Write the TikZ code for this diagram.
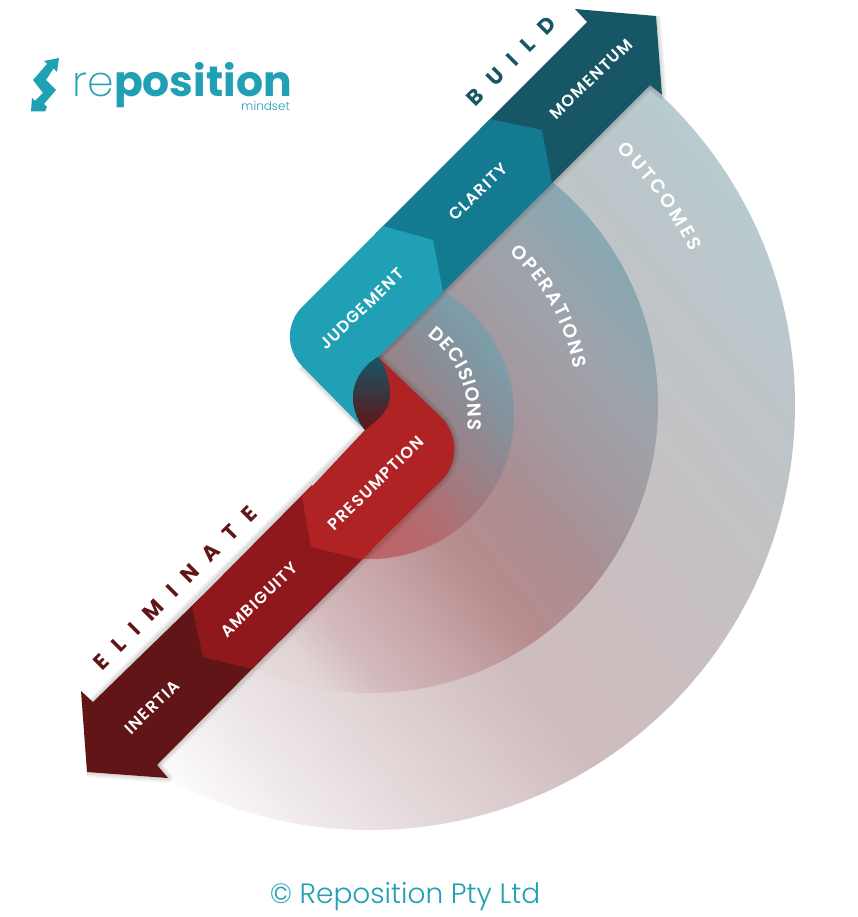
\documentclass[tikz,border=0pt]{standalone}
\usepackage{fontspec}
\setmainfont{Poppins}
\newfontfamily\lightf{Poppins}[UprightFont={* Light}]
\newfontfamily\xlightf{Poppins}[UprightFont={* ExtraLight}]
\newfontfamily\boldf{Poppins}[UprightFont={* Bold}]
\newfontfamily\labelf{Poppins}[UprightFont={* SemiBold},LetterSpace=8]
\newfontfamily\curvef{Poppins}[UprightFont={* SemiBold}]
\newfontfamily\wordf{Poppins}[UprightFont={* Bold},LetterSpace=64]
\usetikzlibrary{decorations.text,calc}
\definecolor{tealA}{HTML}{20A0B5}
\definecolor{tealB}{HTML}{137A92}
\definecolor{tealC}{HTML}{175665}
\definecolor{redA}{HTML}{B02324}
\definecolor{redB}{HTML}{8E181B}
\definecolor{redC}{HTML}{621517}
\definecolor{logoteal}{HTML}{20A0B5}
\definecolor{oa}{HTML}{FDFCFC}
\definecolor{ob}{HTML}{F1EBEC}
\definecolor{oc}{HTML}{E8DFE0}
\definecolor{od}{HTML}{DCCDCE}
\definecolor{oe}{HTML}{CFBCBE}
\definecolor{of}{HTML}{C9BFC0}
\definecolor{og}{HTML}{BCC5C9}
\definecolor{oh}{HTML}{B8CBCF}
\definecolor{ma}{HTML}{E9E0E1}
\definecolor{mb}{HTML}{E2D5D6}
\definecolor{mc}{HTML}{D3BABD}
\definecolor{md}{HTML}{C8A6A9}
\definecolor{me}{HTML}{B78C8D}
\definecolor{mf}{HTML}{AB8E92}
\definecolor{mg}{HTML}{A4969C}
\definecolor{mh}{HTML}{9FA2AA}
\definecolor{mi}{HTML}{87A8B2}
\definecolor{ia}{HTML}{BB6668}
\definecolor{ib}{HTML}{B56B6E}
\definecolor{ic}{HTML}{8E8A92}
\definecolor{id}{HTML}{7D9AA6}
\definecolor{ie}{HTML}{7D9EA8}
\definecolor{la}{HTML}{5C181A}
\definecolor{lb}{HTML}{1C5060}
\pgfdeclareverticalshading{ringout}{1400bp}{
 color(0bp)=(white); color(250bp)=(white); color(293bp)=(oa);
 color(368bp)=(ob); color(433bp)=(oc); color(531bp)=(od); color(629bp)=(oe);
 color(784bp)=(of); color(1018bp)=(og); color(1109bp)=(oh); color(1400bp)=(oh)}
\pgfdeclareverticalshading{ringmid}{1400bp}{
 color(0bp)=(ma); color(400bp)=(ma); color(472bp)=(mb); color(518bp)=(mc);
 color(585bp)=(md); color(665bp)=(me); color(748bp)=(mf); color(795bp)=(mg);
 color(884bp)=(mh); color(977bp)=(mi); color(1400bp)=(mi)}
\pgfdeclareverticalshading{ringin}{1400bp}{
 color(0bp)=(ia); color(618bp)=(ia); color(654bp)=(ib); color(758bp)=(ic);
 color(807bp)=(id); color(819bp)=(ie); color(1400bp)=(ie)}
\pgfdeclareverticalshading{lensshade}{100bp}{
 color(0bp)=(la); color(20bp)=(la); color(80bp)=(lb); color(100bp)=(lb)}
\tikzset{
 lbl/.style={text=white,font=\labelf\fontsize{16.3}{18}\selectfont,rotate=44,inner sep=0pt},
 word/.style={font=\wordf\fontsize{21.5}{23}\selectfont,rotate=45,inner sep=0pt},
 bandshadow/.style={draw=black,opacity=.03,line join=round},
 curved/.style={decorate,decoration={text along path,text align={fit to path},text color=white,
   text={|\curvef\fontsize{19}{21}\selectfont|#1}}},
 ring/.style={inner sep=0pt,rotate=-50}
}
\newcommand{\fanclip}{\clip (735,0) -- (650,-85) -- (378,-357) -- (441,-481) -- (157,-765) -- (140,-782) -- (300,-1000) -- (1000,-1000) -- (1000,0) -- cycle;}
\begin{document}
\begin{tikzpicture}[x=1pt,y=1pt]
\useasboundingbox (0,0) rectangle (857,-917);
\fill[white] (0,0) rectangle (857,-917);
\coordinate (C) at (370,-405);
\coordinate (Cin) at (370,-415);
% ---------- fan
\begin{scope}
 \fanclip
 \clip (C) circle[radius=425pt];
 \node[ring] (fanA) at (405,-430) {\pgfuseshading{ringout}};
\end{scope}
\begin{scope}
 \fanclip
 \clip (C) circle[radius=288pt];
 \node[ring] (fanB) at (405,-430) {\pgfuseshading{ringmid}};
\end{scope}
\begin{scope}
 \fanclip
 \clip (Cin) circle[radius=144pt];
 \node[ring] (fanC) at (405,-430) {\pgfuseshading{ringin}};
\end{scope}
% ---------- curved labels
\path[curved={DECISIONS}] ($(Cin)+(54:98pt)$) arc[start angle=54,end angle=-9,radius=98pt];
\path[curved={OPERATIONS}] ($(C)+(47.5:207pt)$) arc[start angle=47.5,end angle=10,radius=207pt];
\path[curved={OUTCOMES}] ($(C)+(46:355pt)$) arc[start angle=46,end angle=25.5,radius=355pt];
% ---------- shadows
\foreach \w in {2,4,6,8,10}{
 \draw[bandshadow,line width=\w pt] (650,-85) -- (662,-95) -- (656,-16);
 \draw[bandshadow,line width=\w pt] (157,-765) -- (168,-778) -- (87,-772);
 \draw[bandshadow,line width=\w pt] (157,-765) -- (441,-481);
 \draw[bandshadow,line width=\w pt] (378,-357) -- (441,-417);
 \draw[bandshadow,line width=\w pt] (441.2,-417.2) arc[start angle=45,end angle=-45,radius=45pt];
 \draw[bandshadow,line width=\w pt] (378,-357) -- (650,-85);
 \draw[bandshadow,line width=\w pt] (302,-366) -- (365,-430) -- (93,-702);
}
% ---------- teal band (drawn tip first, each part overlapping the next)
\fill[tealC] (480,-129) -- (587,-22) -- (575,-9) -- (656,-16) -- (662,-95) -- (650,-85) -- (542,-193) -- cycle;
\fill[tealB] (375,-234) -- (490,-119) -- (542,-130) -- (552,-183) -- (435,-300) -- cycle;
\fill[tealA] (443,-292) -- (378,-357) -- (365,-430) -- (302.2,-366.2)
  arc[start angle=225,end angle=135,radius=42pt] -- (383,-226) -- (433,-240) -- cycle;
% ---------- red band (same order)
\fill[redC] (202,-596) -- (93,-702) -- (81,-691) -- (87,-772) -- (168,-778) -- (157,-765) -- (262,-659) -- cycle;
\fill[redB] (192,-606) -- (203,-657) -- (252,-669) -- (372,-550) -- (312,-485) -- cycle;
\fill[redA] (378,-357) -- (441.2,-417.2) arc[start angle=45,end angle=-45,radius=45pt]
  -- (362,-559.5) -- (311,-547) -- (302,-497) -- (365,-430) -- cycle;
% ---------- lens
\begin{scope}
 \clip (378,-357) .. controls (362,-366) and (353,-382) .. (353,-397) .. controls (353,-410) and (358,-422) .. (365,-430)
   .. controls (380,-418) and (390,-410) .. (390,-395) .. controls (390,-380) and (386,-368) .. (378,-357) -- cycle;
 \node[inner sep=0pt] (lens) at (372,-394) {\pgfuseshading{lensshade}};
\end{scope}
% ---------- band labels
\node[lbl] (judgement) at (362,-309) {JUDGEMENT};
\node[lbl] (clarity) at (478,-192) {CLARITY};
\node[lbl] (momentum) at (591,-79) {MOMENTUM};
\node[lbl] (presumption) at (376,-483) {PRESUMPTION};
\node[lbl] (ambiguity) at (259,-600) {AMBIGUITY};
\node[lbl] (inertia) at (152,-707) {INERTIA};
\node[word,text=tealC] (build) at (511.5,-61) {BUILD};
\node[word,text=redC] (eliminate) at (175,-588) {ELIMINATE};
% ---------- logo
\fill[logoteal] (59,-58) -- (57,-72) -- (53.5,-68.5) -- (46,-80) -- (56,-90) -- (44,-104) -- (47,-107) -- (45,-111.5) -- (31,-111.5) -- (32,-98) -- (35,-101) -- (43,-93) -- (33,-80) -- (47,-64) -- (44,-61) -- cycle;
\node[anchor=base west,inner sep=0pt,text=logoteal,font=\xlightf\fontsize{42.5}{44}\selectfont] (logore) at (72,-97) {re};
\node[anchor=base west,inner sep=0pt,text=logoteal,font=\boldf\fontsize{42.5}{44}\selectfont] (logopos) at (logore.base east) {position};
\node[anchor=base east,inner sep=0pt,text=logoteal,font=\lightf\fontsize{12}{13}\selectfont] (logomind) at (290,-111) {mindset};
% ---------- copyright
\node[text=logoteal,font=\lightf\fontsize{28}{30}\selectfont,inner sep=0pt] (copy) at (405,-897) {© Reposition Pty Ltd};
\end{tikzpicture}
\end{document}
